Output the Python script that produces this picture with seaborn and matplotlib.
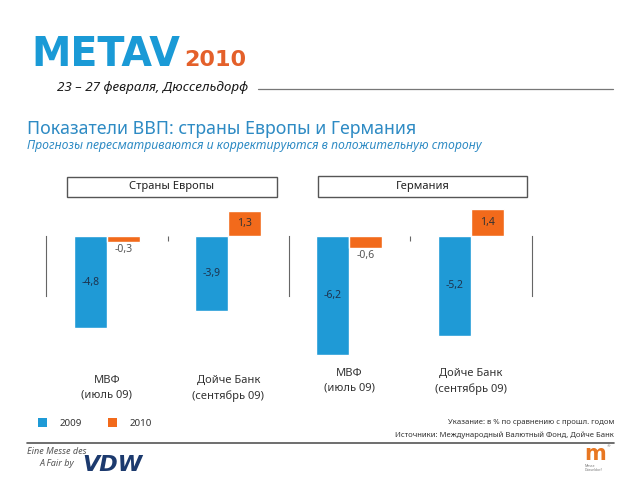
# -*- coding: utf-8 -*-

# Import libraries ======================================================================

import pandas as pd
import matplotlib
matplotlib.use("Agg")
import matplotlib.pyplot as plt
from matplotlib.patches import Rectangle, Patch
from matplotlib.lines import Line2D
import seaborn as sns

# Data ==================================================================================

sources = ["МВФ\n(июль 09)", "Дойче Банк\n(сентябрь 09)"]
years = ["2009", "2010"]
europe_2009 = [-4.8, -3.9]
europe_2010 = [-0.3, 1.3]
germany_2009 = [-6.2, -5.2]
germany_2010 = [-0.6, 1.4]
panel_titles = ["Страны Европы", "Германия"]

blue = "#1f9ad6"
orange = "#f26a1b"
title_blue = "#2e8bc4"
W, H = 640, 480


def make_frame(v2009, v2010):
    return pd.DataFrame({"Source": sources * 2,
                         "Year": [years[0]] * 2 + [years[1]] * 2,
                         "GDP": v2009 + v2010})


def fx(px):
    return px / W


def fy(px):
    return 1 - px / H


# Figure ================================================================================

sns.set_theme(style="white")
plt.rcParams["font.family"] = ["Noto Sans", "DejaVu Sans"]

fig = plt.figure(figsize=(6.4, 4.8), dpi=100)


def draw_panel(ax, data, label_pad):
    sns.barplot(data=data, x="Source", y="GDP", hue="Year", hue_order=years,
                palette=[blue, orange], width=0.54, saturation=1, gap=0,
                errorbar=None, legend=False, ax=ax)
    ax.set_ylim(-6.5, 2.0)
    ax.set_xlim(-0.5, 1.5)
    ax.set_xlabel("")
    ax.set_ylabel("")
    ax.set_yticks([])

    # value labels
    for container, txt_color in zip(ax.containers, ["#1d3450", "#333333"]):
        for bar in container:
            v = bar.get_height()
            cx = bar.get_x() + bar.get_width() / 2
            label = f"{v:.1f}".replace(".", ",")
            if abs(v) < 1:
                ax.annotate(label, xy=(cx, v), xytext=(0, -1.5), textcoords="offset points",
                            ha="center", va="top", fontsize=7.5, color="#555555")
            else:
                ax.text(cx, v / 2, label, ha="center", va="center",
                        fontsize=7.5, color=txt_color)

    # spines
    ax.spines["top"].set_visible(False)
    ax.spines["bottom"].set_visible(False)
    ax.spines["bottom"].set_position(("data", 0))
    for side in ["left", "right"]:
        ax.spines[side].set_bounds(-3.1, 0)
        ax.spines[side].set_color("#666666")
        ax.spines[side].set_linewidth(0.8)

    ax.set_xticks([0, 1])
    ax.set_xticklabels(sources)
    ax.set_xticks([0.5], minor=True)
    ax.tick_params(axis="x", which="major", length=0, pad=label_pad,
                   labelsize=8, labelcolor="#333333")
    ax.tick_params(axis="x", which="minor", bottom=True, length=3.5, direction="out",
                   color="#666666", width=0.8)
    for lbl in ax.get_xticklabels():
        lbl.set_linespacing(1.45)


ax_eu = fig.add_axes([fx(46), fy(360.8), fx(243), 163.2 / H])
ax_de = fig.add_axes([fx(288), fy(360.8), fx(244), 163.2 / H])
ax_eu.patch.set_alpha(0)
ax_de.patch.set_alpha(0)

draw_panel(ax_eu, make_frame(europe_2009, europe_2010), 100)
draw_panel(ax_de, make_frame(germany_2009, germany_2010), 95)
ax_de.spines["left"].set_visible(False)

# Panel title boxes
for (x0, y0, x1, y1), title in zip([(67, 177, 277, 197), (318, 176, 527, 197)], panel_titles):
    fig.add_artist(Rectangle((fx(x0), fy(y1)), fx(x1 - x0), (y1 - y0) / H,
                             transform=fig.transFigure, facecolor="white",
                             edgecolor="#555555", linewidth=1))
    fig.text(fx((x0 + x1) / 2), fy((y0 + y1) / 2), title, ha="center", va="center",
             fontsize=8, fontweight="bold", color="#222222")

# Header ================================================================================

fig.text(fx(31), fy(55), "METAV", ha="left", va="center", fontsize=28.5,
         fontweight="heavy", color="#1a9ad6", family="DejaVu Sans")
fig.text(fx(184), fy(60), "2010", ha="left", va="center", fontsize=16,
         fontweight="bold", color="#e4602a", family="DejaVu Sans")
fig.text(fx(57), fy(88), "23 – 27 февраля, Дюссельдорф", ha="left", va="center",
         fontsize=9.7, style="italic", fontweight="medium", color="#1a1a1a")
fig.add_artist(Line2D([fx(258), fx(613)], [fy(89), fy(89)], transform=fig.transFigure,
                      color="#777777", linewidth=0.9))

fig.text(fx(27), fy(129), "Показатели ВВП: страны Европы и Германия", ha="left",
         va="center", fontsize=12.8, fontweight="semibold", color=title_blue)
fig.text(fx(27), fy(146), "Прогнозы пересматриваются и корректируются в положительную сторону",
         ha="left", va="center", fontsize=8.8, style="italic", color=title_blue)

# Legend and notes ======================================================================

handles = [Patch(facecolor=blue, edgecolor="none"), Patch(facecolor=orange, edgecolor="none")]
fig.legend(handles, years, loc="center left", bbox_to_anchor=(fx(38), fy(423)),
           ncol=2, frameon=False, fontsize=7, handlelength=0.95, handleheight=0.95,
           handletextpad=1.3, columnspacing=2.6, borderpad=0, borderaxespad=0,
           labelcolor="#333333")

fig.text(fx(614), fy(423), "Указание: в % по сравнению с прошл. годом", ha="right",
         va="center", fontsize=5.5, color="#333333")
fig.text(fx(614), fy(435), "Источники: Международный Валютный Фонд, Дойче Банк", ha="right",
         va="center", fontsize=5.5, color="#333333")

fig.add_artist(Line2D([fx(27), fx(614)], [fy(443), fy(443)], transform=fig.transFigure,
                      color="#555555", linewidth=1.2))

# Footer logos ==========================================================================

fig.text(fx(27), fy(452), "Eine Messe des", ha="left", va="center", fontsize=6.5,
         style="italic", color="#555555")
fig.text(fx(40), fy(464), "A Fair by", ha="left", va="center", fontsize=6.5,
         style="italic", color="#555555")
fig.text(fx(82), fy(465), "VDW", ha="left", va="center", fontsize=16, fontweight="heavy",
         style="italic", color="#1c3a6e", family="DejaVu Sans")
fig.text(fx(595), fy(454), "m", ha="center", va="center", fontsize=15, fontweight="bold",
         color="#e87722", family="DejaVu Sans")
fig.text(fx(607), fy(446), "®", ha="left", va="center", fontsize=3, color="#777777")
fig.text(fx(585), fy(468), "Messe\nDüsseldorf", ha="left", va="center", fontsize=2.5,
         color="#777777", linespacing=1.1)

plt.savefig("out.png", dpi=100)
